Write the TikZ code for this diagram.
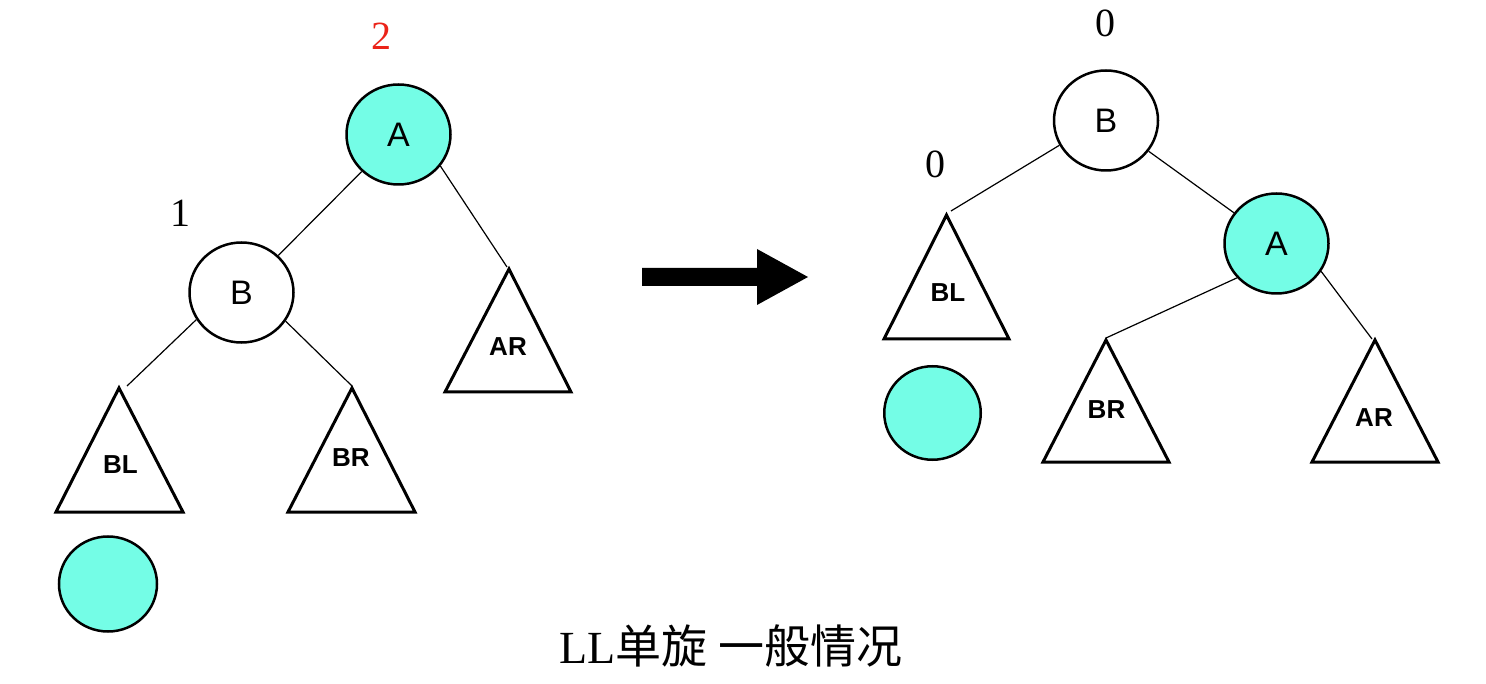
\documentclass[tikz,border=0pt]{standalone}
\usepackage{fontspec}
\setmainfont{Liberation Serif}
\setsansfont{Liberation Sans}
\newfontfamily\cjk{Noto Sans CJK SC}
\usetikzlibrary{shapes.geometric}
\definecolor{tealfill}{RGB}{116,253,230}
\definecolor{redlbl}{RGB}{235,35,25}
\begin{document}
\begin{tikzpicture}[x=1pt,y=-1pt,
  nd/.style={ellipse,draw,line width=2.5pt,minimum width=104pt,minimum height=100pt,inner sep=0pt,
             font=\sffamily\fontsize{34}{34}\selectfont},
  leaf/.style={ellipse,draw,line width=2.5pt,fill=tealfill,minimum width=98pt,minimum height=95pt,inner sep=0pt},
  tri/.style={draw,line width=3pt,line join=miter},
  lbl/.style={inner sep=0pt,font=\sffamily\bfseries\fontsize{26}{26}\selectfont},
  bf/.style={inner sep=0pt,font=\fontsize{40}{40}\selectfont},
  edge/.style={line width=1.2pt}]
\useasboundingbox (0,0) rectangle (1486,684);

% ---------- left tree ----------
\node[nd,fill=tealfill] (lA) at (398.5,134.5) {A};
\node[nd] (lB) at (241.5,292.5) {B};
\node[bf,text=redlbl] (l2) at (381,36) {2};
\node[bf] (l1) at (180,213.5) {1};

\coordinate (lARt) at (509,269);
\draw[tri] (lARt) -- (571,392) -- (445,392) -- cycle;
\node[lbl] (lAR) at (508,347) {AR};

\coordinate (lBLt) at (119,388);
\draw[tri] (lBLt) -- (183,512) -- (56,512) -- cycle;
\node[lbl] (lBL) at (120.5,465) {BL};

\coordinate (lBRt) at (352,388);
\draw[tri] (lBRt) -- (415,512) -- (288,512) -- cycle;
\node[lbl] (lBR) at (351,457.5) {BR};

\node[leaf] (lN) at (108,584) {};

\coordinate (lARe) at (507,267);
\coordinate (lBLe) at (127,386);
\coordinate (lBRe) at (352,386);
\draw[edge] (lA) -- (lB);
\draw[edge] (lA.-37) -- (lARe);
\draw[edge] (lB.211) -- (lBLe);
\draw[edge] (lB.-33) -- (lBRe);

% ---------- arrow ----------
\fill (642,268) -- (757,268) -- (757,249) -- (808,277) -- (757,305) -- (757,286) -- (642,286) -- cycle;

% ---------- right tree ----------
\node[nd] (rB) at (1106,120.5) {B};
\node[nd,fill=tealfill] (rA) at (1276.5,243.5) {A};
\node[bf] (r0a) at (1105.5,23.5) {0};
\node[bf] (r0b) at (935,164) {0};

\coordinate (rBLt) at (946.5,215);
\draw[tri] (rBLt) -- (1009,339) -- (884,339) -- cycle;
\node[lbl] (rBL) at (948,293) {BL};

\coordinate (rBRt) at (1106,340);
\draw[tri] (rBRt) -- (1169,462) -- (1043,462) -- cycle;
\node[lbl] (rBR) at (1106.5,409.5) {BR};

\coordinate (rARt) at (1375,340);
\draw[tri] (rARt) -- (1438,462) -- (1312,462) -- cycle;
\node[lbl] (rAR) at (1374,417.5) {AR};

\node[leaf,minimum width=96.5pt,minimum height=93.5pt] (rN) at (932.5,413) {};

\coordinate (rBLe) at (951,211);
\coordinate (rBRe) at (1106,338);
\coordinate (rARe) at (1372,339);
\draw[edge] (rB) -- (rA);
\draw[edge] (rB.208.5) -- (rBLe);
\draw[edge] (rA.221) -- (rBRe);
\draw[edge] (rA.-32.4) -- (rARe);

% ---------- caption ----------
\node[anchor=base,inner sep=0pt,font=\fontsize{46}{46}\selectfont] (cap) at (731,663) {LL{\cjk 单旋} {\cjk 一般情况}};
\end{tikzpicture}
\end{document}
